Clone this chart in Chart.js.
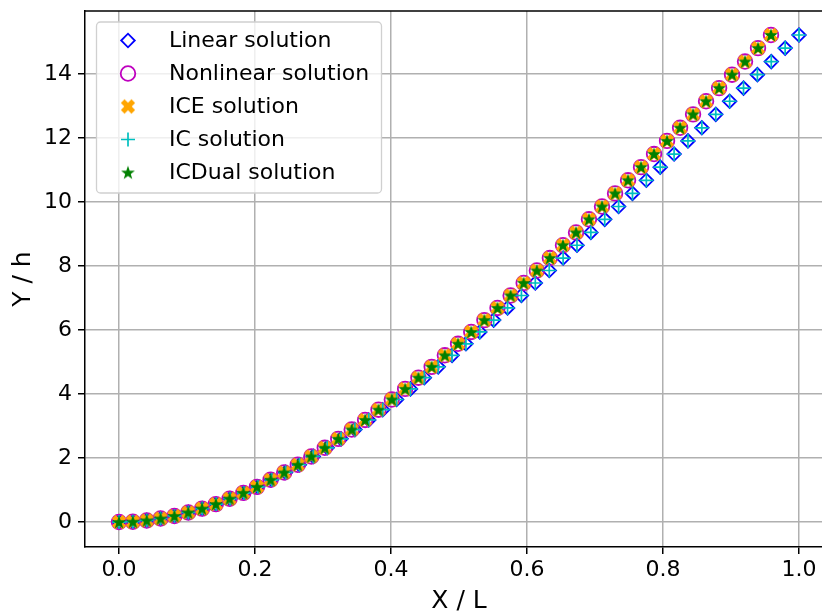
<!DOCTYPE html>
<html>
<head>
<meta charset="utf-8">
<script src="https://cdn.jsdelivr.net/npm/chart.js"></script>
<style>
  body { margin: 0; background: #fff; }
  #wrap { width: 822px; height: 613px; }
</style>
</head>
<body>
<div id="wrap"><canvas id="beamChart" width="822" height="613"></canvas></div>
<script>
// values (X / L, Y / h), 50 nodes per run
const xLinear = [0.0000, 0.0204, 0.0408, 0.0612, 0.0816, 0.1020, 0.1224, 0.1429, 0.1633, 0.1837,
  0.2041, 0.2245, 0.2449, 0.2653, 0.2857, 0.3061, 0.3265, 0.3469, 0.3673, 0.3878,
  0.4082, 0.4286, 0.4490, 0.4694, 0.4898, 0.5102, 0.5306, 0.5510, 0.5714, 0.5918,
  0.6122, 0.6327, 0.6531, 0.6735, 0.6939, 0.7143, 0.7347, 0.7551, 0.7755, 0.7959,
  0.8163, 0.8367, 0.8571, 0.8776, 0.8980, 0.9184, 0.9388, 0.9592, 0.9796, 1.0000];
const yLinear = [0.00, 0.01, 0.05, 0.11, 0.19, 0.30, 0.42, 0.56, 0.73, 0.91,
  1.10, 1.32, 1.55, 1.79, 2.05, 2.32, 2.60, 2.89, 3.19, 3.51,
  3.83, 4.16, 4.51, 4.85, 5.21, 5.57, 5.94, 6.31, 6.69, 7.08,
  7.47, 7.86, 8.25, 8.65, 9.05, 9.46, 9.86, 10.27, 10.68, 11.09,
  11.50, 11.91, 12.32, 12.74, 13.15, 13.56, 13.98, 14.39, 14.81, 15.22];
const xNonlinear = [0.0000, 0.0204, 0.0408, 0.0612, 0.0815, 0.1018, 0.1221, 0.1424, 0.1626, 0.1828,
  0.2029, 0.2229, 0.2429, 0.2629, 0.2828, 0.3026, 0.3224, 0.3422, 0.3619, 0.3816,
  0.4012, 0.4208, 0.4403, 0.4598, 0.4792, 0.4986, 0.5180, 0.5373, 0.5566, 0.5759,
  0.5951, 0.6145, 0.6336, 0.6529, 0.6721, 0.6911, 0.7103, 0.7295, 0.7486, 0.7677,
  0.7868, 0.8059, 0.8251, 0.8442, 0.8633, 0.8825, 0.9015, 0.9206, 0.9397, 0.9588];
const yNonlinear = [0.00, 0.01, 0.05, 0.11, 0.19, 0.30, 0.42, 0.56, 0.73, 0.91,
  1.10, 1.32, 1.55, 1.79, 2.05, 2.32, 2.60, 2.89, 3.19, 3.51,
  3.83, 4.16, 4.51, 4.85, 5.21, 5.57, 5.94, 6.31, 6.69, 7.08,
  7.47, 7.86, 8.25, 8.65, 9.05, 9.46, 9.86, 10.27, 10.68, 11.09,
  11.50, 11.91, 12.32, 12.74, 13.15, 13.56, 13.98, 14.39, 14.81, 15.22];
// the IC runs sit right on top of the linear / nonlinear ones
const xIC = xLinear, yIC = yLinear;
const xICE = xNonlinear, yICE = yNonlinear;
const xICDual = xNonlinear, yICDual = yNonlinear;

const xTicks = [0.0, 0.2, 0.4, 0.6, 0.8, 1.0];
const yTicks = [0, 2, 4, 6, 8, 10, 12, 14];

const FONT = 'DejaVu Sans';

function toPoints(xs, ys) {
  return xs.map((x, i) => ({x: x, y: ys[i]}));
}

// filled matplotlib-like markers that chart.js doesnt have
function xMarker(color) {
  const c = document.createElement('canvas');
  c.width = 18; c.height = 18;
  const g = c.getContext('2d');
  g.translate(9, 9);
  g.rotate(Math.PI / 4);
  g.fillStyle = color;
  g.fillRect(-7.5, -2.6, 15, 5.2);
  g.fillRect(-2.6, -7.5, 5.2, 15);
  return c;
}

function starMarker(color) {
  const c = document.createElement('canvas');
  c.width = 18; c.height = 18;
  const g = c.getContext('2d');
  const R = 7.3, r = 2.9;
  g.beginPath();
  for (let i = 0; i < 10; i++) {
    const a = -Math.PI / 2 + i * Math.PI / 5;
    const rr = i % 2 ? r : R;
    g.lineTo(9 + rr * Math.cos(a), 9.5 + rr * Math.sin(a));
  }
  g.closePath();
  g.fillStyle = color;
  g.fill();
  return c;
}

const datasets = [{
  label: 'Linear solution',
  data: toPoints(xLinear, yLinear),
  pointStyle: 'rectRot', pointRadius: 6.8, borderColor: '#0000ff', borderWidth: 1.8,
  backgroundColor: 'rgba(0,0,0,0)', order: 5
}, {
  label: 'Nonlinear solution',
  data: toPoints(xNonlinear, yNonlinear),
  pointStyle: 'circle', pointRadius: 7.3, borderColor: '#bf00bf', borderWidth: 1.8,
  backgroundColor: 'rgba(0,0,0,0)', order: 4
}, {
  label: 'ICE solution',
  data: toPoints(xICE, yICE),
  pointStyle: xMarker('#ffa500'), pointRadius: 7, borderColor: '#ffa500', borderWidth: 0,
  backgroundColor: '#ffa500', order: 3
}, {
  label: 'IC solution',
  data: toPoints(xIC, yIC),
  pointStyle: 'cross', pointRadius: 7, borderColor: '#00bfbf', borderWidth: 1.7,
  backgroundColor: '#00bfbf', order: 2
}, {
  label: 'ICDual solution',
  data: toPoints(xICDual, yICDual),
  pointStyle: starMarker('#008000'), pointRadius: 7, borderColor: '#008000', borderWidth: 0,
  backgroundColor: '#008000', order: 1
}];

// top spine, legend box in the upper left corner and the x axis title
const boxLegend = {
  id: 'boxLegend',
  afterDatasetsDraw(chart) {
    const ctx = chart.ctx;
    const area = chart.chartArea;
    ctx.save();
    ctx.strokeStyle = '#000';
    ctx.lineWidth = 1.5;
    ctx.beginPath();
    ctx.moveTo(area.left, area.top);
    ctx.lineTo(area.right, area.top);
    ctx.stroke();

    const bx = 96.5, by = 22, bw = 285, bh = 171;
    ctx.beginPath();
    ctx.roundRect(bx, by, bw, bh, 4);
    ctx.fillStyle = 'rgba(255,255,255,0.8)';
    ctx.fill();
    ctx.strokeStyle = '#d0d0d0';
    ctx.lineWidth = 1.3;
    ctx.stroke();

    chart.data.datasets.forEach((ds, i) => {
      const y = 40.5 + i * 33;
      ctx.strokeStyle = ds.borderColor;
      ctx.fillStyle = ds.backgroundColor;
      ctx.lineWidth = ds.borderWidth;
      Chart.helpers.drawPoint(ctx, {
        pointStyle: ds.pointStyle, radius: ds.pointRadius,
        borderWidth: ds.borderWidth, rotation: 0
      }, 128, y);
      ctx.font = '22px "' + FONT + '"';
      ctx.textBaseline = 'middle';
      ctx.textAlign = 'left';
      ctx.fillStyle = '#000';
      ctx.fillText(ds.label, 169, y + 1);
    });

    ctx.font = '25px "' + FONT + '"';
    ctx.textBaseline = 'alphabetic';
    ctx.textAlign = 'center';
    ctx.fillStyle = '#000';
    ctx.fillText('X / L', 459, 608);
    ctx.restore();
  }
};

new Chart(document.getElementById('beamChart'), {
  type: 'scatter',
  data: { datasets: datasets },
  options: {
    responsive: false,
    animation: false,
    layout: { autoPadding: false, padding: { top: 11, right: 0, left: 0, bottom: 0 } },
    plugins: { legend: { display: false }, tooltip: { enabled: false } },
    scales: {
      x: {
        type: 'linear', min: -0.05, max: 1.0338,
        afterFit: s => { s.height = 66; s.paddingLeft = 0; s.paddingRight = 0; },
        afterBuildTicks: s => { s.ticks = xTicks.map(v => ({value: v})); },
        grid: { color: '#b0b0b0', lineWidth: 1.5, tickColor: '#000', tickLength: 7, tickWidth: 1.5 },
        border: { color: '#000', width: 1.5 },
        ticks: { color: '#000', padding: 3, maxRotation: 0, font: { family: FONT, size: 22 },
          callback: v => v.toFixed(1) }
      },
      y: {
        type: 'linear', min: -0.78, max: 15.97,
        afterFit: s => { s.width = 85; s.paddingTop = 0; s.paddingBottom = 0; },
        afterBuildTicks: s => { s.ticks = yTicks.map(v => ({value: v})); },
        grid: { color: '#b0b0b0', lineWidth: 1.5, tickColor: '#000', tickLength: 7, tickWidth: 1.5 },
        border: { color: '#000', width: 1.5 },
        ticks: { color: '#000', padding: 6, font: { family: FONT, size: 22 },
          callback: v => String(v) },
        title: { display: true, text: 'Y / h', color: '#000',
          font: { family: FONT, size: 25, lineHeight: 1 }, padding: { top: 10.5, bottom: 0 } }
      }
    }
  },
  plugins: [boxLegend]
});
</script>
</body>
</html>
